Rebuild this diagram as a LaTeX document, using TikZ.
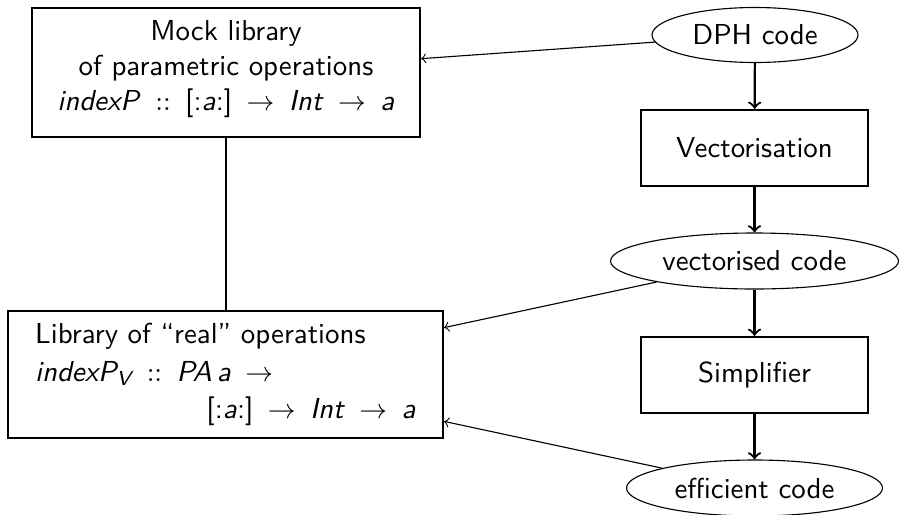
\documentclass[tikz,border=0pt]{standalone}
\usepackage{amsmath}
\usetikzlibrary{shapes.geometric}
\newcommand{\dc}{\hspace{5.2pt}$::$\hspace{5.2pt}}
\newcommand{\ar}{\hspace{5.2pt}$\rightarrow$\hspace{5.2pt}}
\begin{document}
\begin{tikzpicture}[x=0.36pt,y=-0.36pt,
  every node/.style={font=\sffamily\fontsize{10.4}{12.6}\selectfont, inner sep=0pt},
  boxnode/.style={draw, thick, rectangle, align=center},
  ellnode/.style={draw, thin, ellipse},
  flow/.style={->, thick},
  link/.style={->, thin}]
\useasboundingbox (0,0) rectangle (899,514);
\node[boxnode, minimum width=388*0.36pt, minimum height=129*0.36pt] (mock) at (226,72.5)
  {Mock library\\ of parametric operations\\ \textit{indexP}\dc[:\textit{a}:]\ar\textit{Int}\ar\textit{a}\rule[-5pt]{0pt}{0pt}};
\node[boxnode, minimum width=435*0.36pt, minimum height=127*0.36pt] (lib) at (225.5,374.5)
  {\parbox{137pt}{\raggedright Library of ``real'' operations\\[1pt]
   $\textit{indexP}_{\textit{V}}$\dc\textit{PA}\,\textit{a}\ar\\[1pt]
   \hspace*{\fill}[:\textit{a}:]\ar\textit{Int}\ar\textit{a}}};
\node[ellnode, minimum width=206*0.36pt, minimum height=55*0.36pt] (dph) at (755,35) {DPH code};
\node[boxnode, minimum width=227*0.36pt, minimum height=76*0.36pt] (vect) at (754.5,148) {Vectorisation};
\node[ellnode, minimum width=288*0.36pt, minimum height=56*0.36pt] (vcode) at (754.5,261) {vectorised code};
\node[boxnode, minimum width=227*0.36pt, minimum height=76*0.36pt] (simp) at (754.5,375) {Simplifier};
\node[ellnode, minimum width=256*0.36pt, minimum height=56*0.36pt] (eff) at (754.5,488) {efficient code};
\draw[flow] (dph) -- (vect);
\draw[flow] (vect) -- (vcode);
\draw[flow] (vcode) -- (simp);
\draw[flow] (simp) -- (eff);
\draw[link] (dph) -- (mock);
\draw[link] (vcode) -- (lib);
\draw[link] (eff) -- (lib);
\draw[thin] (mock) -- (mock |- lib.north);
\end{tikzpicture}
\end{document}
